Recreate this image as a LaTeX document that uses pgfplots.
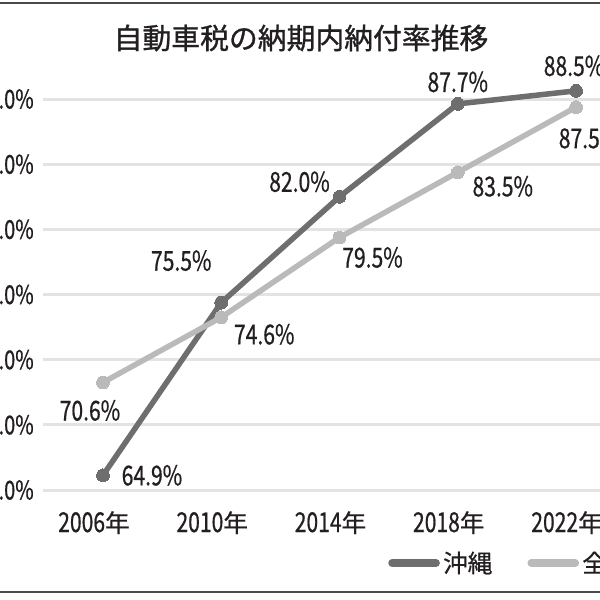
\documentclass[border=0pt]{standalone}
\usepackage{fontspec}
\setmainfont[FakeBold=0.6]{Noto Sans CJK JP}
\newfontfamily\cnd[FakeStretch=0.77, FakeBold=0.6]{Noto Sans CJK JP}
\newfontfamily\ttl[FakeBold=1.0]{Noto Sans CJK JP}
\usepackage{pgfplots}
\pgfplotsset{compat=1.18}
\definecolor{oki}{HTML}{6E6E6E}
\definecolor{nat}{HTML}{BABABA}
\definecolor{grd}{HTML}{E3E3E3}
\definecolor{txt}{HTML}{231F20}
\definecolor{bord}{HTML}{4A4A4A}
\begin{document}
\begin{tikzpicture}[lbl/.style={font=\cnd\fontsize{19.5}{19.5}\selectfont, text=txt, inner sep=0pt}]
\useasboundingbox (0,0) rectangle (150mm,150mm);
\clip (0,0) rectangle (150mm,150mm);
\fill[white] (0,0) rectangle (150mm,150mm);
\draw[bord, line width=0.5mm] (0,149.25mm) -- (150mm,149.25mm);
\draw[bord, line width=0.5mm] (0,2mm) -- (150mm,2mm);
\node[font=\ttl\fontsize{20.5}{20.5}\selectfont, text=txt] at (75.25mm,140.5mm) {自動車税の納期内納付率推移};
\begin{axis}[
  at={(10.75mm,27.5mm)}, anchor=south west,
  scale only axis, width=148.25mm, height=97.75mm,
  xmin=-0.507, xmax=4.507, ymin=64, ymax=88,
  clip=false,
  axis line style={draw=none},
  major tick length=0pt,
  ymajorgrids, grid style={grd, line width=0.75mm},
  ytick={64,68,72,76,80,84,88},
  yticklabels={64.0\%,68.0\%,72.0\%,76.0\%,80.0\%,84.0\%,88.0\%},
  yticklabel style={font=\cnd\fontsize{18.5}{18.5}\selectfont, text=txt, inner sep=0pt, anchor=east, xshift=-2.25mm},
  xtick={0,1,2,3,4},
  xticklabels={{\fontsize{19.5}{19.5}\selectfont\cnd 2006}年,{\fontsize{19.5}{19.5}\selectfont\cnd 2010}年,{\fontsize{19.5}{19.5}\selectfont\cnd 2014}年,{\fontsize{19.5}{19.5}\selectfont\cnd 2018}年,{\fontsize{19.5}{19.5}\selectfont\cnd 2022}年},
  xticklabel style={font=\fontsize{17.5}{17.5}\selectfont, text=txt, inner sep=0pt, anchor=north, yshift=-5.25mm, xshift=-2.25mm},
  legend columns=2,
  legend style={at={(0.5818,-0.1867)}, anchor=west, draw=none, fill=none,
    font=\fontsize{17.5}{17.5}\selectfont, text=txt, inner sep=0pt,
    /tikz/every even column/.append style={column sep=8mm},
    nodes={inner sep=0.8mm, anchor=west}},
  legend image code/.code={\draw[#1, line cap=round, line width=1.9mm] (0mm,0mm) -- (11mm,0mm);},
]
\addplot[oki, line width=1.375mm, mark=*, mark size=1.6mm, mark options={fill=oki, draw=oki, line width=0pt}]
  coordinates {(0,64.9) (1,75.5) (2,82.0) (3,87.7) (4,88.5)};
\addlegendentry{沖縄}
\addplot[nat, line width=1.375mm, mark=*, mark size=1.6mm, mark options={fill=nat, draw=nat, line width=0pt}]
  coordinates {(0,70.6) (1,74.6) (2,79.5) (3,83.5) (4,87.5)};
\addlegendentry{全国}
\node[lbl, xshift=12.25mm] at (axis cs:0,64.9) {64.9\%};
\node[lbl, xshift=-10mm, yshift=10.5mm] at (axis cs:1,75.5) {75.5\%};
\node[lbl, xshift=-10mm, yshift=3.75mm] at (axis cs:2,82.0) {82.0\%};
\node[lbl, yshift=5.5mm] at (axis cs:3,87.7) {87.7\%};
\node[lbl, xshift=-0.5mm, yshift=6.25mm] at (axis cs:4,88.5) {88.5\%};
\node[lbl, xshift=-3.25mm, yshift=-7mm] at (axis cs:0,70.6) {70.6\%};
\node[lbl, xshift=10.75mm, yshift=-4.25mm] at (axis cs:1,74.6) {74.6\%};
\node[lbl, xshift=8.25mm, yshift=-5mm] at (axis cs:2,79.5) {79.5\%};
\node[lbl, xshift=11.25mm, yshift=-3.5mm] at (axis cs:3,83.5) {83.5\%};
\node[lbl, xshift=3.25mm, yshift=-7.75mm] at (axis cs:4,87.5) {87.5\%};
\end{axis}
\end{tikzpicture}
\end{document}
